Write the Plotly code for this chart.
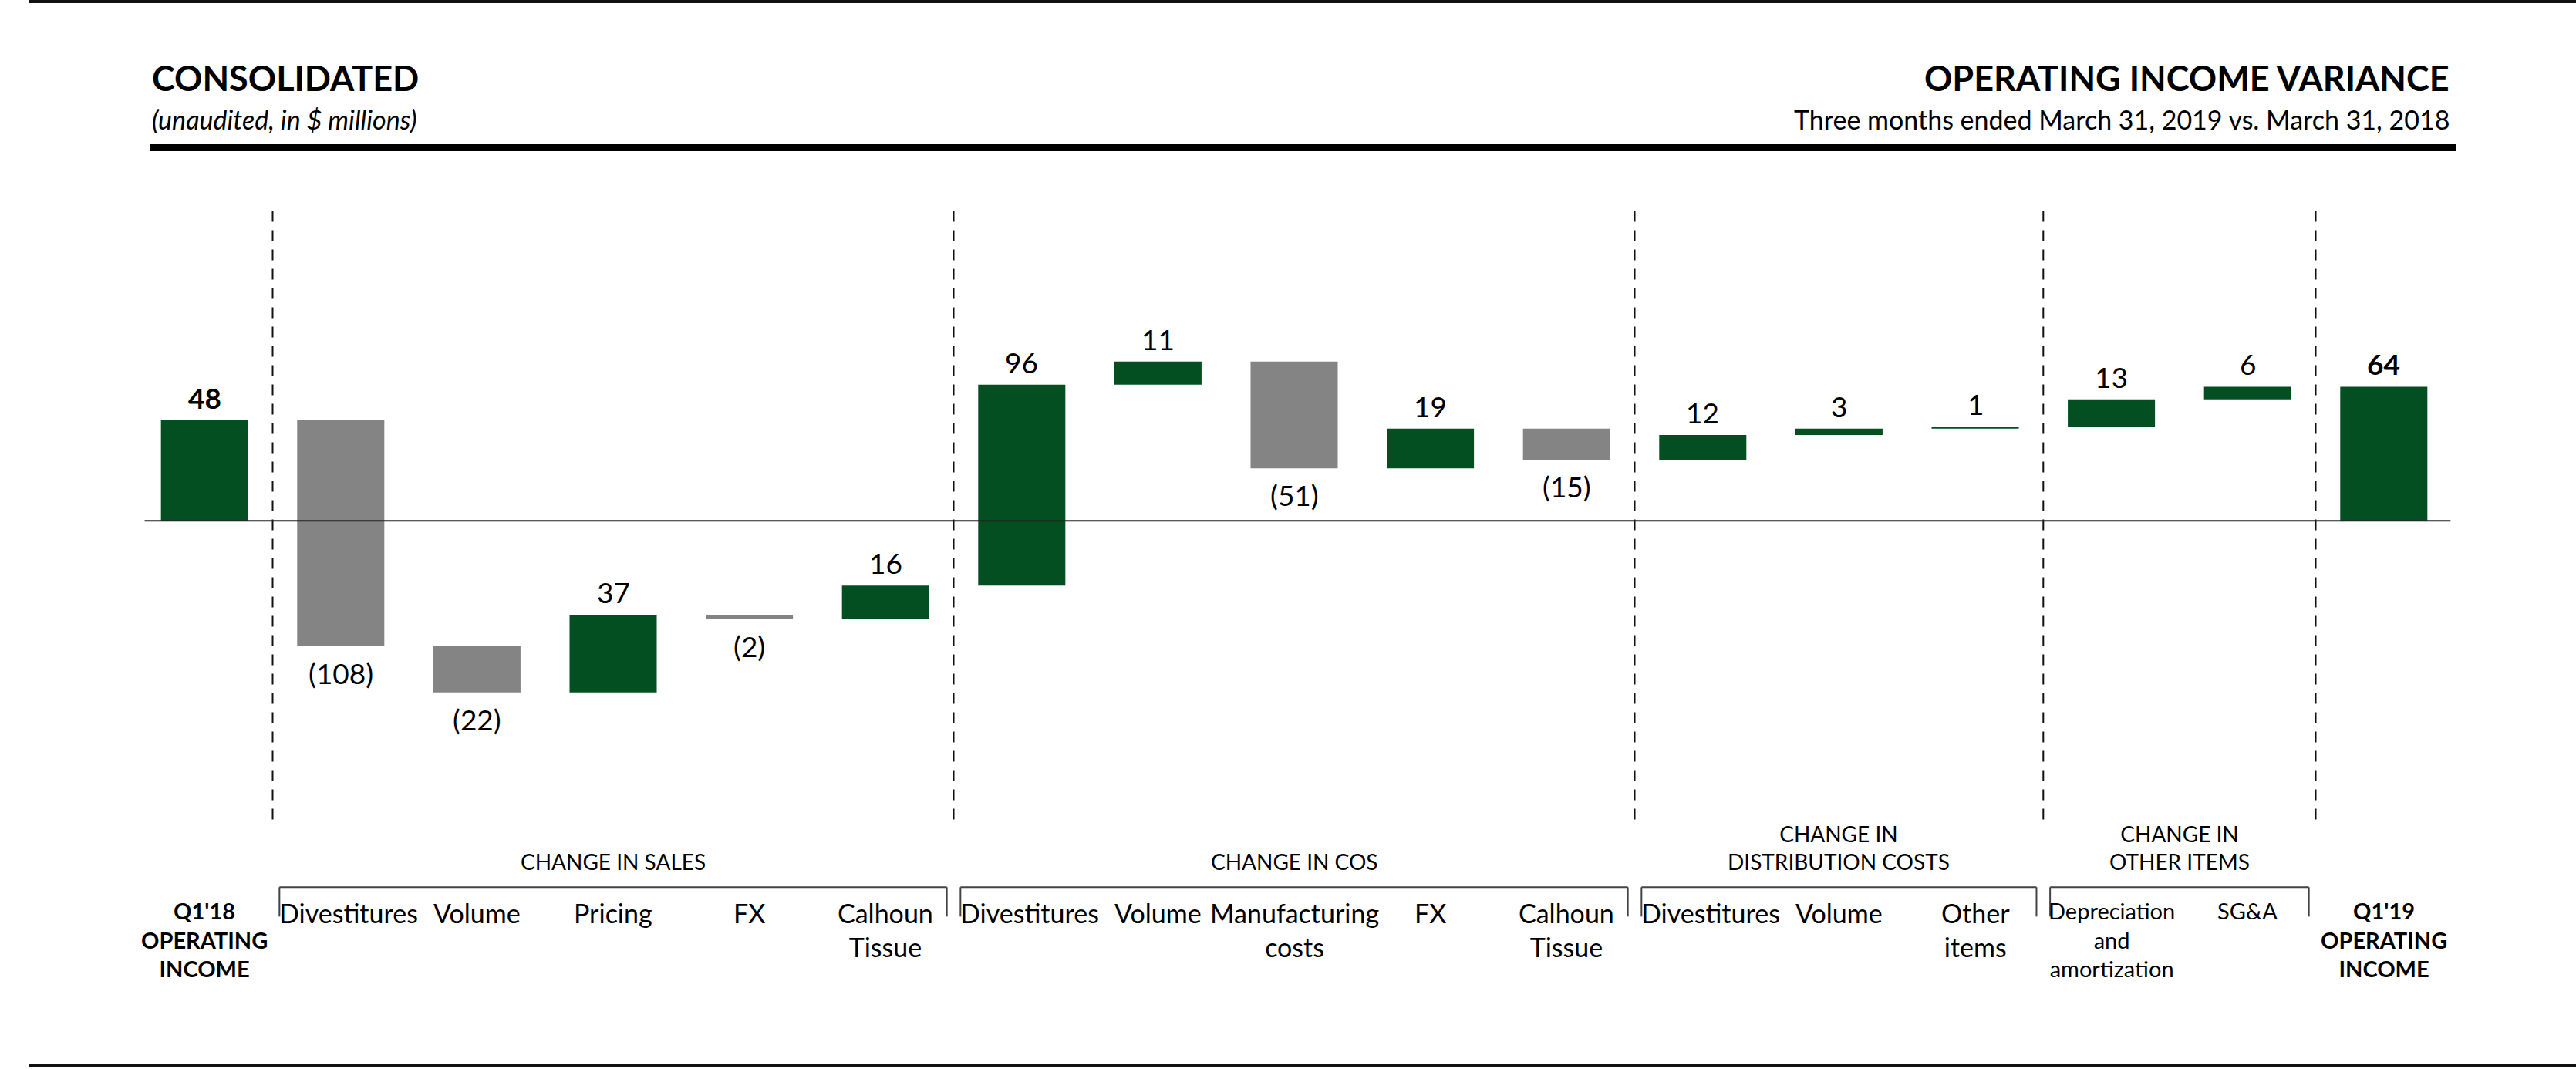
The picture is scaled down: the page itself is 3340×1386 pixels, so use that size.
import numpy as np
import plotly.graph_objects as go

# ---------------- data ----------------
categories = ["Q1'18<br>OPERATING<br>INCOME", "Divestitures", "Volume", "Pricing", "FX", "Calhoun<br>Tissue",
              "Divestitures", "Volume", "Manufacturing<br>costs", "FX", "Calhoun<br>Tissue",
              "Divestitures", "Volume", "Other<br>items",
              "Depreciation<br>and<br>amortization", "SG&A",
              "Q1'19<br>OPERATING<br>INCOME"]
values = [48, -108, -22, 37, -2, 16, 96, 11, -51, 19, -15, 12, 3, 1, 13, 6, 64]
measures = ["absolute"] + ["relative"] * 15 + ["total"]
group_names = ["CHANGE IN SALES", "CHANGE IN COS", "CHANGE IN<br>DISTRIBUTION COSTS", "CHANGE IN<br>OTHER ITEMS"]
group_first = [1, 6, 11, 14]
group_last = [5, 10, 13, 15]

title_left = "CONSOLIDATED"
subtitle_left = "(unaudited, in $ millions)"
title_right = "OPERATING INCOME VARIANCE"
subtitle_right = "Three months ended March 31, 2019 vs. March 31, 2018"

# ---------------- style ----------------
GREEN = "#034F22"
GRAY = "#848484"
W, H = 3340, 1386
FONT = "Lato"

x = np.arange(len(values))
vals = np.array(values, dtype=float)

# waterfall extents computed from the data
starts, ends = [], []
cum = 0.0
for v, m in zip(vals, measures):
    if m == "absolute":
        s, e = 0.0, v
        cum = v
    elif m == "total":
        s, e = 0.0, cum
    else:
        s, e = cum, cum + v
        cum = cum + v
    starts.append(s)
    ends.append(e)

fig = go.Figure()
fig.add_trace(go.Waterfall(
    x=x, y=values, measure=measures,
    increasing=dict(marker=dict(color=GREEN, line=dict(width=0))),
    decreasing=dict(marker=dict(color=GRAY, line=dict(width=0))),
    totals=dict(marker=dict(color=GREEN, line=dict(width=0))),
    connector=dict(visible=False),
    hoverinfo="skip",
))

ann = []
# value labels
for i, (v, m, s, e) in enumerate(zip(values, measures, starts, ends)):
    bold = m in ("absolute", "total")
    txt = f"{v}" if v >= 0 else f"({-v})"
    if bold:
        txt = f"<b>{txt}</b>"
    if v >= 0:
        ann.append(dict(x=i, y=max(s, e), xref="x", yref="y", text=txt, showarrow=False,
                        yanchor="bottom", yshift=5, font=dict(size=37, color="#000", family=FONT)))
    else:
        ann.append(dict(x=i, y=min(s, e), xref="x", yref="y", text=txt, showarrow=False,
                        yanchor="top", yshift=-10, font=dict(size=37, color="#000", family=FONT)))

# category labels
for i, c in enumerate(categories):
    if i == 0 or i == len(categories) - 1:
        txt, size = f"<b>{c}</b>", 29
    elif i in (14, 15):
        txt, size = c, 29
    else:
        txt, size = c, 34
    xshift = 10 if (i in group_first and c == "Divestitures") else 0
    ann.append(dict(x=i, y=-179, xref="x", yref="y", text=txt, showarrow=False,
                    yanchor="top", xshift=xshift, font=dict(size=size, color="#000", family=FONT)))

# group boundaries / titles / brackets
bounds = [group_first[0] - 0.5] + [l + 0.5 for l in group_last]
shapes = []
for b in bounds:
    shapes.append(dict(type="line", xref="x", yref="y", x0=b, x1=b, y0=148, y1=-146,
                       line=dict(color="#111", width=2, dash="14px,11px")))
for g, (f, l) in enumerate(zip(group_first, group_last)):
    x0, x1 = f - 0.45, l + 0.45
    shapes.append(dict(type="line", xref="x", yref="y", x0=x0, x1=x1, y0=-175, y1=-175,
                       line=dict(color="#444", width=2)))
    for xx in (x0, x1):
        shapes.append(dict(type="line", xref="x", yref="y", x0=xx, x1=xx, y0=-175, y1=-189,
                           line=dict(color="#444", width=2)))
    two = "<br>" in group_names[g]
    ann.append(dict(x=(f + l) / 2, y=-156 if two else -162.7, xref="x", yref="y",
                    text=group_names[g], showarrow=False, yanchor="middle",
                    font=dict(size=28, color="#000", family=FONT)))

# zero line
shapes.append(dict(type="line", xref="x", yref="y", x0=x[0] - 0.44, x1=x[-1] + 0.49, y0=0, y1=0,
                   line=dict(color="#222", width=2)))

# header
def py(p):
    return 1 - p / H

shapes.append(dict(type="line", xref="paper", yref="paper", x0=38 / W, x1=1, y0=py(2), y1=py(2),
                   line=dict(color="#111", width=4)))
shapes.append(dict(type="line", xref="paper", yref="paper", x0=195 / W, x1=3185 / W, y0=py(191.5), y1=py(191.5),
                   line=dict(color="#000", width=9)))
shapes.append(dict(type="line", xref="paper", yref="paper", x0=38 / W, x1=1, y0=py(1381), y1=py(1381),
                   line=dict(color="#111", width=4)))

ann.append(dict(x=195 / W, y=py(101), xref="paper", yref="paper", text=f"<b>{title_left}</b>",
                showarrow=False, xanchor="left", yanchor="middle",
                font=dict(size=45, color="#000", family=FONT)))
ann.append(dict(x=195 / W, y=py(154), xref="paper", yref="paper", text=f"<i>{subtitle_left}</i>",
                showarrow=False, xanchor="left", yanchor="middle",
                font=dict(size=34, color="#000", family=FONT)))
ann.append(dict(x=3178 / W, y=py(101), xref="paper", yref="paper", text=f"<b>{title_right}</b>",
                showarrow=False, xanchor="right", yanchor="middle",
                font=dict(size=45, color="#000", family=FONT)))
ann.append(dict(x=3178 / W, y=py(154), xref="paper", yref="paper", text=subtitle_right,
                showarrow=False, xanchor="right", yanchor="middle",
                font=dict(size=34, color="#000", family=FONT)))

px_per_x = 176.6
x_left = -265.2 / px_per_x
x_right = (W - 265.2) / px_per_x
px_per_y = 2.715
y_top = 675.2 / px_per_y
y_bot = -(H - 675.2) / px_per_y

fig.update_layout(
    width=W, height=H, margin=dict(l=0, r=0, t=0, b=0),
    paper_bgcolor="white", plot_bgcolor="white",
    showlegend=False, hovermode=False,
    waterfallgap=0.36,
    xaxis=dict(visible=False, range=[x_left, x_right], fixedrange=True),
    yaxis=dict(visible=False, range=[y_bot, y_top], fixedrange=True),
    annotations=ann, shapes=shapes,
    font=dict(family=FONT, color="#000"),
)

fig.write_html("out.html", config={"displayModeBar": False},
               post_script="document.body.style.margin='0';document.body.style.overflow='hidden';")
